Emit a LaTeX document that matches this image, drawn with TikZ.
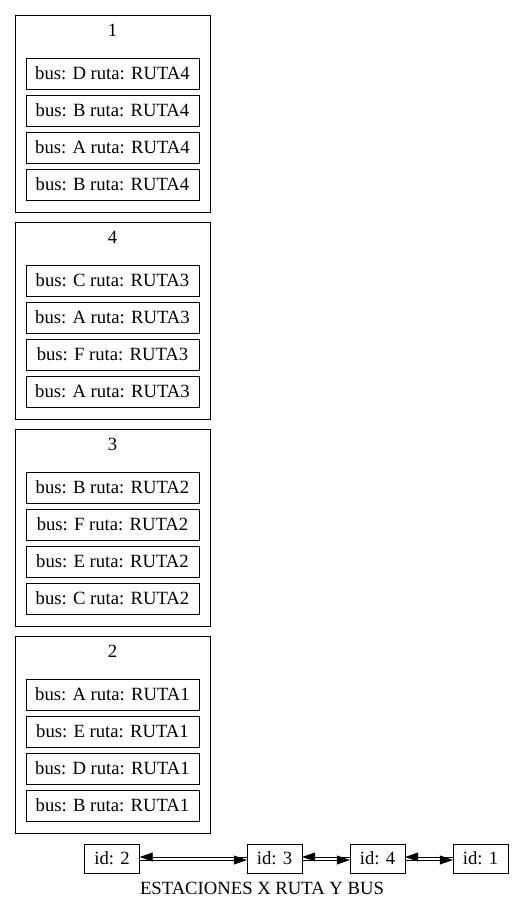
\documentclass[tikz,border=0pt]{standalone}
\usepackage{fontspec}
\setmainfont{Liberation Serif}
\usepackage{tikz}
\usetikzlibrary{arrows.meta}
\tikzset{
  cluster/.style={draw,minimum width=195pt,minimum height=197pt,inner sep=0pt},
  bus/.style={draw,minimum width=173pt,minimum height=31pt,inner sep=0pt},
  station/.style={draw,minimum width=55pt,minimum height=29pt,inner sep=0pt},
  link/.style={-{Triangle[length=13pt,width=9pt]},semithick}
}

\begin{document}
\begin{tikzpicture}[x=1pt,y=-1pt,every node/.style={font=\fontsize{18.67}{22}\selectfont}]
    \useasboundingbox (0,0) rectangle (513,911);

    % one box per estacion, with its buses
    \foreach \k/\t/\r/\buses in {0/1/4/{D,B,A,B},1/4/3/{C,A,F,A},2/3/2/{B,F,E,C},3/2/1/{A,E,D,B}} {
      \node[cluster] (cl\t) at (112.5,113.5+207*\k) {};
      \node (title\t) at (112.5,30+207*\k) {\t};
      \foreach \b [count=\i from 0] in \buses
        \node[bus] (bus\t-\i) at (112.5,73.5+37*\i+207*\k) {bus: \b\ ruta: RUTA\r};
    }

    % list of estaciones
    \node[station] (s2) at (112,858.5) {id: 2};
    \node[station] (s3) at (274.5,858.5) {id: 3};
    \node[station] (s4) at (377.5,858.5) {id: 4};
    \node[station] (s1) at (480.5,858.5) {id: 1};
    \node (caption) at (262,888) {ESTACIONES X RUTA Y BUS};

    \draw[link] ([yshift=1.5pt]s3.west) -- ([yshift=1.5pt]s2.east);
    \draw[link] ([yshift=-1.5pt]s2.east) -- ([yshift=-1.5pt]s3.west);
    \draw[link] ([yshift=1.5pt]s4.west) -- ([yshift=1.5pt]s3.east);
    \draw[link] ([yshift=-1.5pt]s3.east) -- ([yshift=-1.5pt]s4.west);
    \draw[link] ([yshift=1.5pt]s1.west) -- ([yshift=1.5pt]s4.east);
    \draw[link] ([yshift=-1.5pt]s4.east) -- ([yshift=-1.5pt]s1.west);
  \end{tikzpicture}
\end{document}
